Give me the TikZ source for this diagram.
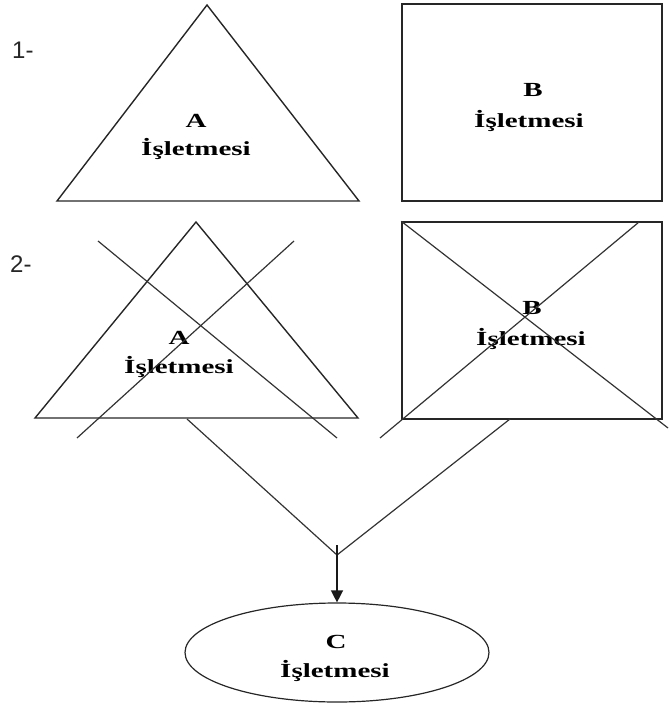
\documentclass[tikz,border=0pt]{standalone}
\usepackage{fontspec}
\setmainfont{Liberation Serif}
\newfontfamily\nodefont[FakeStretch=1.45]{Liberation Serif Bold}
\newfontfamily\labelfont{Liberation Sans}
\usetikzlibrary{arrows.meta,shapes.geometric}
\begin{document}
\begin{tikzpicture}[x=1pt,y=-1pt,
  shapeline/.style={draw=black!85,line width=1.4pt},
  thinline/.style={draw=black!80,line width=1.2pt},
  txt/.style={inner sep=0pt,anchor=base,font=\nodefont\fontsize{20}{24}\selectfont},
  lbl/.style={inner sep=0pt,anchor=base west,font=\labelfont\fontsize{24}{28}\selectfont,text=black!85}]
\useasboundingbox (0,0) rectangle (669,709);

% labels
\node[lbl] (l1) at (12,59) {1-};
\node[lbl] (l2) at (10,272) {2-};

% row 1
\coordinate (t1a) at (207,5);
\coordinate (t1l) at (57,201);
\coordinate (t1r) at (359,201);
\draw[shapeline] (t1a) -- (t1l) -- (t1r) -- cycle;
\node[txt] (A1) at (196,127) {A};
\node[txt] (A1b) at (196,155) {İşletmesi};

\node[shapeline,minimum width=260pt,minimum height=197pt,inner sep=0pt] (B1) at (532,102.5) {};
\node[txt] (B1t) at (533,96) {B};
\node[txt] (B1b) at (529,127) {İşletmesi};

% row 2
\coordinate (t2a) at (196,222);
\coordinate (t2l) at (35,418);
\coordinate (t2r) at (358,418);
\draw[shapeline] (t2a) -- (t2l) -- (t2r) -- cycle;
\node[txt] (A2) at (179,344) {A};
\node[txt] (A2b) at (179,373) {İşletmesi};
\coordinate (xa1) at (98,241);
\coordinate (xa2) at (337,438);
\coordinate (xa3) at (294,241);
\coordinate (xa4) at (77,438);
\draw[thinline] (xa1) -- (xa2);
\draw[thinline] (xa3) -- (xa4);

\node[shapeline,minimum width=260pt,minimum height=197pt,inner sep=0pt] (B2) at (532,320.5) {};
\node[txt] (B2t) at (532,314) {B};
\node[txt] (B2b) at (531,345) {İşletmesi};
\coordinate (xb1) at (668,428);
\coordinate (xb2) at (639,222);
\coordinate (xb3) at (380,438);
\draw[thinline] (B2.north west) -- (xb1);
\draw[thinline] (xb2) -- (xb3);

% merge
\coordinate (vl) at (187,419);
\coordinate (vr) at (510,419);
\coordinate (vm) at (337,555);
\coordinate (as) at (337,545);
\draw[thinline] (vl) -- (vm) -- (vr);

% C
\node[draw=black!85,line width=1.2pt,ellipse,minimum width=304pt,minimum height=99pt,inner sep=0pt] (C) at (337,652.5) {};
\node[txt] (Ct) at (336,648) {C};
\node[txt] (Cb) at (335,677) {İşletmesi};
\draw[draw=black!90,line width=1.4pt,-{Triangle[length=12pt,width=12pt]}] (as) -- (C.north);
\end{tikzpicture}
\end{document}
